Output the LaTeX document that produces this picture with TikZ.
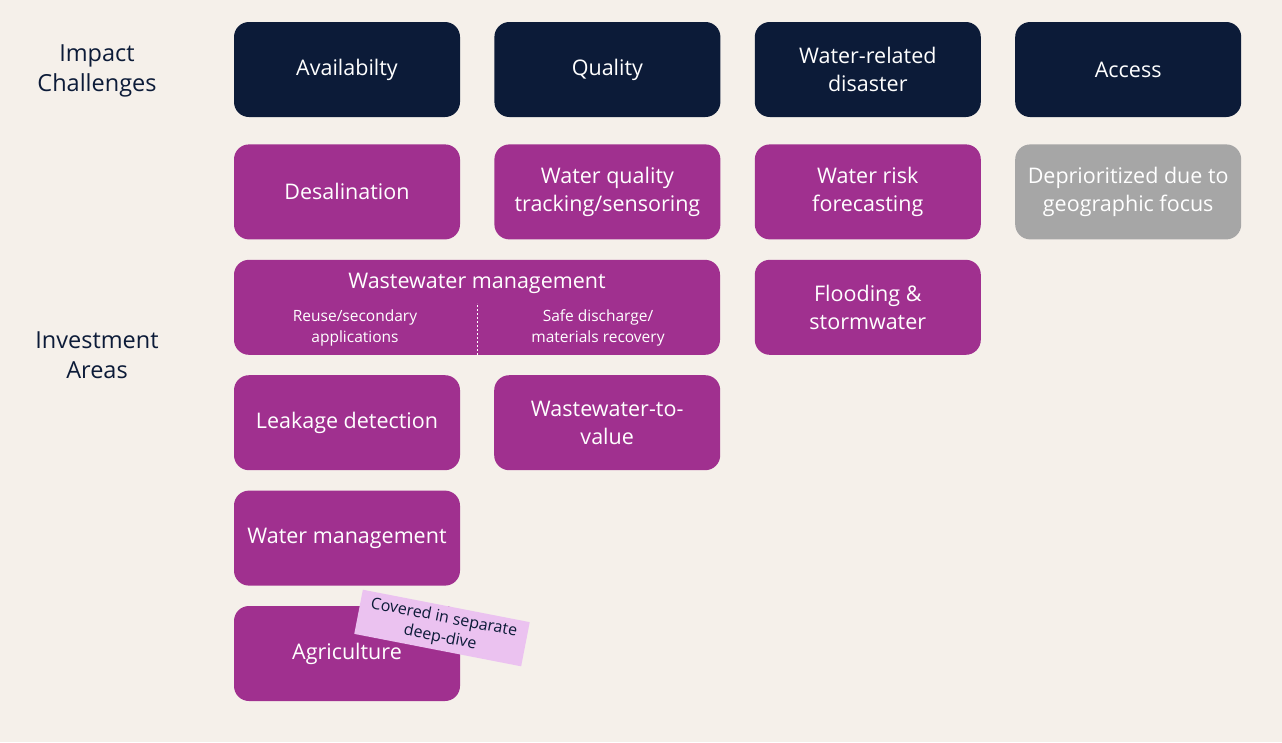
\documentclass[tikz,border=0pt]{standalone}
\usepackage{fontspec}
\setmainfont{Open Sans}
\usepackage{tikz}
\usetikzlibrary{positioning, calc}

\definecolor{paper}{HTML}{F5F0EA}
\definecolor{navy}{HTML}{0C1B38}
\definecolor{plum}{HTML}{A0308F}
\definecolor{ash}{HTML}{A6A6A6}
\definecolor{pinknote}{HTML}{EBC2F0}

\tikzset{
  tile/.style={rounded corners=15pt, minimum width=226pt, minimum height=95pt,
    inner sep=0pt, text=white, align=center, font=\fontsize{21.5}{28}\selectfont},
  challenge/.style={tile, fill=navy},
  area/.style={tile, fill=plum},
  skipped/.style={tile, fill=ash},
  rowlabel/.style={text=navy, align=center, font=\fontsize{23.5}{30}\selectfont},
  sublabel/.style={text=white, align=center, font=\fontsize{15.5}{21}\selectfont},
  note/.style={fill=pinknote, text=navy, align=center, inner sep=0pt,
    minimum width=170pt, minimum height=45pt, font=\fontsize{16}{20}\selectfont}
}

\begin{document}
\begin{tikzpicture}[x=1pt, y=-1pt, node distance=20pt and 34pt]
  \useasboundingbox[fill=paper] (0,0) rectangle (1282,742);

  % row labels
  \node[rowlabel] (impact) at (97,71) {Impact\\Challenges};
  \node[rowlabel] (invest) at (97,355) {Investment\\Areas};

  % impact challenges
  \node[challenge] (avail) at (347,69.5) {Availabilty};
  \node[challenge, right=of avail] (quality) {Quality};
  \node[challenge, right=of quality] (disaster) {Water-related\\disaster};
  \node[challenge, right=of disaster] (access) {Access};

  % investment areas
  \node[area, below=27pt of avail] (desal) {Desalination};
  \node[area, below=27pt of quality] (tracking) {Water quality\\tracking/sensoring};
  \node[area, below=27pt of disaster] (forecast) {Water risk\\forecasting};
  \node[skipped, below=27pt of access] (deprio) {Deprioritized due to\\geographic focus};

  \node[area, minimum width=486pt, below=20pt of desal.south west, anchor=north west] (waste) {};
  \node[text=white, font=\fontsize{21.5}{28}\selectfont] (wastetitle) at ($(waste.north)+(0,24)$) {Wastewater management};
  \coordinate (divtop) at ($(waste.south)+(0,-52)$);
  \draw[white, dashed, dash pattern=on 2pt off 2pt, line width=0.6pt] (waste.south) -- (divtop);
  \node[sublabel] (reuse) at ($(waste.south)+(-122,-27)$) {Reuse/secondary\\applications};
  \node[sublabel] (discharge) at ($(waste.south)+(121,-27)$) {Safe discharge/\\materials recovery};
  \node[area, below=20pt of forecast] (flood) {Flooding \&\\stormwater};

  \node[area, below=20pt of waste.south west, anchor=north west] (leak) {Leakage detection};
  \node[area, below=20pt of waste.south, anchor=north west, xshift=17pt] (wtv) {Wastewater-to-\\value};
  \node[area, below=20pt of leak] (wmgmt) {Water management};
  \node[area, below=20pt of wmgmt] (agri) {Agriculture};

  % sticky note
  \node[note, rotate=-11] (covered) at (442,628) {Covered in separate\\deep-dive};
\end{tikzpicture}
\end{document}
